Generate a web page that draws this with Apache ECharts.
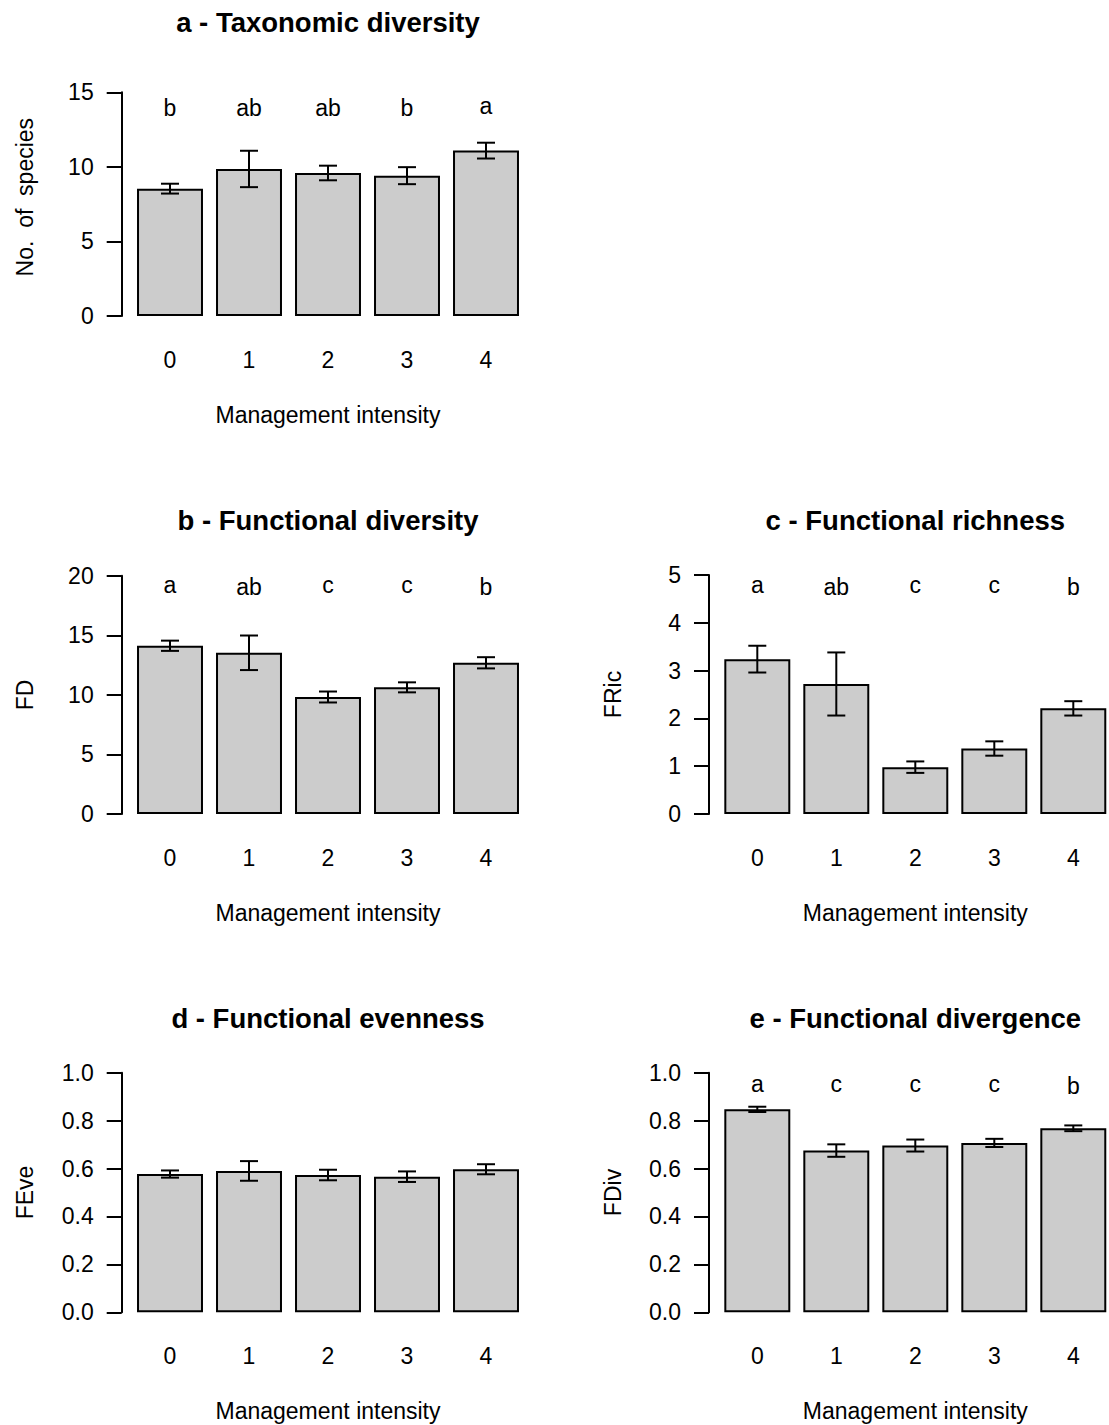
<!DOCTYPE html>
<html>
<head>
<meta charset="utf-8">
<title>Diversity indices by management intensity</title>
<script src="https://cdn.jsdelivr.net/npm/echarts@6/dist/echarts.min.js"></script>
<style>
  html, body { margin: 0; padding: 0; background: #ffffff; }
  #chart { width: 1109px; height: 1425px; }
</style>
</head>
<body>
<div id="chart"></div>
<script>
// Management intensity classes (x categories)
const categories = ['0', '1', '2', '3', '4'];

// a - Taxonomic diversity: number of species (mean, standard error, group letters)
const taxMean = [8.54, 9.86, 9.59, 9.41, 11.09];
const taxSE = [0.33, 1.22, 0.49, 0.57, 0.53];
const taxLetters = ['b', 'ab', 'ab', 'b', 'a'];
const taxTicks = ['0', '5', '10', '15'];

// b - Functional diversity (FD)
const fdMean = [14.12, 13.53, 9.82, 10.63, 12.69];
const fdSE = [0.43, 1.45, 0.46, 0.42, 0.47];
const fdLetters = ['a', 'ab', 'c', 'c', 'b'];
const fdTicks = ['0', '5', '10', '15', '20'];

// c - Functional richness (FRic)
const fricMean = [3.24, 2.72, 0.98, 1.37, 2.21];
const fricSE = [0.28, 0.66, 0.12, 0.15, 0.15];
const fricLetters = ['a', 'ab', 'c', 'c', 'b'];
const fricTicks = ['0', '1', '2', '3', '4', '5'];

// d - Functional evenness (FEve), no significant groups
const feveMean = [0.577, 0.590, 0.573, 0.566, 0.597];
const feveSE = [0.015, 0.041, 0.022, 0.022, 0.021];
const feveLetters = [];
const feveTicks = ['0.0', '0.2', '0.4', '0.6', '0.8', '1.0'];

// e - Functional divergence (FDiv)
const fdivMean = [0.847, 0.675, 0.696, 0.707, 0.768];
const fdivSE = [0.011, 0.026, 0.025, 0.017, 0.012];
const fdivLetters = ['a', 'c', 'c', 'c', 'b'];
const fdivTicks = ['0.0', '0.2', '0.4', '0.6', '0.8', '1.0'];

const FONT = '"Liberation Sans", Arial, Helvetica, sans-serif';
const TXT = 23;
const TITLE = 27.5;

// Panel layout: plot band left edge, y of top tick, y of zero line
const panels = [
  { title: 'a - Taxonomic diversity', yName: 'No.  of  species', mean: taxMean, se: taxSE,
    letters: taxLetters, letterY: 14, ticks: taxTicks, interval: 5,
    left: 130.5, top: 92.3, zero: 316, namePad: [0, 0, 0, 14] },
  { title: 'b - Functional diversity', yName: 'FD', mean: fdMean, se: fdSE,
    letters: fdLetters, letterY: 19.1, ticks: fdTicks, interval: 5,
    left: 130.5, top: 575.7, zero: 814, namePad: 0 },
  { title: 'c - Functional richness', yName: 'FRic', mean: fricMean, se: fricSE,
    letters: fricLetters, letterY: 4.78, ticks: fricTicks, interval: 1,
    left: 717.8, top: 575, zero: 814, namePad: 0 },
  { title: 'd - Functional evenness', yName: 'FEve', mean: feveMean, se: feveSE,
    letters: feveLetters, letterY: 0.95, ticks: feveTicks, interval: 0.2,
    left: 130.5, top: 1072.7, zero: 1312.3, namePad: 0 },
  { title: 'e - Functional divergence', yName: 'FDiv', mean: fdivMean, se: fdivSE,
    letters: fdivLetters, letterY: 0.95, ticks: fdivTicks, interval: 0.2,
    left: 717.8, top: 1072.7, zero: 1312.3, namePad: 0 }
];

const BAND_W = 395;     // five category bands
const AXIS_OFFSET = 8.8; // y axis sits a little left of the first band

const titles = [];
const grids = [];
const xAxes = [];
const yAxes = [];
const series = [];

panels.forEach((p, k) => {
  const maxVal = p.interval * (p.ticks.length - 1);
  const centerX = p.left + BAND_W / 2;

  titles.push({
    text: p.title,
    left: centerX,
    top: p.zero - 294 - TITLE / 2,
    textAlign: 'center',
    padding: 0,
    textStyle: { fontFamily: FONT, fontSize: TITLE, fontWeight: 'bold', color: '#000' }
  });

  grids.push({
    left: p.left,
    top: p.top,
    width: BAND_W,
    height: p.zero - p.top,
    outerBoundsMode: 'none',
    containLabel: false
  });

  xAxes.push({
    type: 'category',
    gridIndex: k,
    data: categories,
    axisLine: { show: false },
    axisTick: { show: false },
    axisLabel: { fontFamily: FONT, fontSize: TXT, color: '#000', margin: 32 },
    name: 'Management intensity',
    nameLocation: 'middle',
    nameGap: 87,
    nameTextStyle: { fontFamily: FONT, fontSize: TXT, color: '#000' }
  });

  yAxes.push({
    type: 'value',
    gridIndex: k,
    min: 0,
    max: maxVal,
    interval: p.interval,
    offset: AXIS_OFFSET,
    axisLine: { show: true, lineStyle: { color: '#000', width: 2 } },
    axisTick: { show: true, length: 15, lineStyle: { color: '#000', width: 2 } },
    axisLabel: {
      fontFamily: FONT, fontSize: TXT, color: '#000', margin: 28,
      formatter: (v) => p.ticks[Math.round(v / p.interval)]
    },
    splitLine: { show: false },
    name: p.yName,
    nameLocation: 'middle',
    nameGap: 85,
    nameTextStyle: { fontFamily: FONT, fontSize: TXT, color: '#000', padding: p.namePad }
  });

  // Bars: mean values
  series.push({
    type: 'bar',
    xAxisIndex: k,
    yAxisIndex: k,
    data: p.mean,
    barCategoryGap: '16.5%',
    itemStyle: { color: '#cccccc', borderColor: '#000', borderWidth: 2 },
    emphasis: { disabled: true },
    silent: true,
    z: 2
  });

  // Error bars: mean +/- standard error
  series.push({
    type: 'custom',
    xAxisIndex: k,
    yAxisIndex: k,
    data: p.mean.map((m, i) => [i, m - p.se[i], m + p.se[i]]),
    encode: { x: 0, y: [1, 2] },
    silent: true,
    z: 3,
    renderItem: (params, api) => {
      const i = api.value(0);
      const lo = api.coord([i, api.value(1)]);
      const hi = api.coord([i, api.value(2)]);
      const half = 9;
      const style = { stroke: '#000', lineWidth: 2, fill: null };
      return {
        type: 'group',
        children: [
          { type: 'line', shape: { x1: lo[0], y1: lo[1], x2: hi[0], y2: hi[1] }, style },
          { type: 'line', shape: { x1: hi[0] - half, y1: hi[1], x2: hi[0] + half, y2: hi[1] }, style },
          { type: 'line', shape: { x1: lo[0] - half, y1: lo[1], x2: lo[0] + half, y2: lo[1] }, style }
        ]
      };
    }
  });

  // Group letters from the post-hoc comparison
  if (p.letters.length) {
    series.push({
      type: 'custom',
      xAxisIndex: k,
      yAxisIndex: k,
      data: p.letters.map((l, i) => [i, p.letterY]),
      encode: { x: 0, y: 1 },
      silent: true,
      z: 4,
      renderItem: (params, api) => {
        const pt = api.coord([api.value(0), api.value(1)]);
        const txt = p.letters[params.dataIndex];
        const dy = txt.indexOf('b') >= 0 ? 1 : -1;
        return {
          type: 'text',
          x: pt[0],
          y: pt[1] + dy,
          style: {
            text: txt,
            fill: '#000',
            font: TXT + 'px ' + FONT,
            textAlign: 'center',
            textVerticalAlign: 'middle'
          }
        };
      }
    });
  }
});

const chart = echarts.init(document.getElementById('chart'), null, { renderer: 'svg' });
chart.setOption({
  backgroundColor: '#ffffff',
  animation: false,
  title: titles,
  grid: grids,
  xAxis: xAxes,
  yAxis: yAxes,
  series: series
});
</script>
</body>
</html>
